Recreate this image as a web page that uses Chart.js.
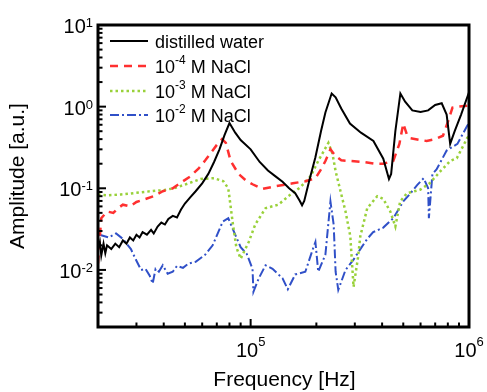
<!DOCTYPE html>
<html>
<head>
<meta charset="utf-8">
<script src="https://cdn.jsdelivr.net/npm/chart.js@4/dist/chart.umd.min.js"></script>
<style>
html,body{margin:0;padding:0;background:#fff;}
#wrap{width:487px;height:392px;}
</style>
</head>
<body>
<div id="wrap"><canvas id="c" width="487" height="392"></canvas></div>
<script>
// ---- data (frequency in Hz, amplitude in a.u.) ----
const waterFreq = [2.0e4,2.04e4,2.07e4,2.12e4,2.16e4,2.2e4,2.3e4,2.4e4,2.5e4,2.6e4,2.7e4,2.8e4,2.9e4,3.0e4,3.1e4,3.2e4,3.35e4,3.5e4,3.6e4,3.75e4,3.9e4,4.05e4,4.2e4,4.4e4,4.6e4,4.8e4,5.0e4,5.3e4,5.6e4,6.0e4,6.4e4,6.8e4,7.2e4,7.6e4,8.0e4,8.5e4,9.0e4,1.0e5,1.1e5,1.2e5,1.3e5,1.4e5,1.5e5,1.6e5,1.68e5,1.72e5,1.76e5,1.85e5,1.98e5,2.1e5,2.2e5,2.35e5,2.45e5,2.6e5,2.85e5,3.2e5,3.65e5,4.05e5,4.3e5,4.4e5,4.6e5,4.85e5,5.1e5,5.5e5,6.0e5,6.5e5,7.0e5,7.5e5,7.9e5,8.2e5,8.6e5,9.2e5,1e6];
const waterAmp = [0.018,0.022,0.015,0.021,0.016,0.020,0.018,0.021,0.019,0.023,0.021,0.025,0.023,0.027,0.025,0.029,0.027,0.031,0.028,0.034,0.038,0.036,0.042,0.046,0.044,0.055,0.065,0.078,0.092,0.115,0.15,0.21,0.30,0.45,0.63,0.48,0.39,0.30,0.21,0.165,0.14,0.12,0.10,0.087,0.07,0.062,0.07,0.12,0.24,0.5,0.85,1.45,1.3,0.95,0.62,0.48,0.38,0.23,0.13,0.15,0.5,1.45,1.15,0.9,0.86,0.9,1.05,1.1,0.8,0.35,0.5,0.8,1.5];

const nacl4Freq = [2.0e4,2.03e4,2.07e4,2.2e4,2.35e4,2.47e4,2.6e4,2.8e4,3.0e4,3.25e4,3.6e4,3.96e4,4.4e4,4.9e4,5.3e4,5.8e4,6.2e4,6.7e4,7.0e4,7.4e4,7.7e4,8.1e4,8.8e4,9.5e4,1.02e5,1.13e5,1.3e5,1.56e5,1.78e5,1.98e5,2.1e5,2.2e5,2.32e5,2.44e5,2.6e5,2.86e5,3.3e5,3.7e5,4.05e5,4.5e5,4.8e5,5.0e5,5.2e5,5.4e5,6.0e5,6.4e5,7.0e5,7.6e5,8.0e5,8.4e5,9.0e5,1e6];
const nacl4Amp = [0.012,0.022,0.043,0.052,0.050,0.057,0.063,0.060,0.068,0.073,0.080,0.092,0.10,0.122,0.14,0.177,0.22,0.29,0.34,0.40,0.36,0.216,0.15,0.125,0.112,0.098,0.106,0.115,0.122,0.133,0.17,0.216,0.30,0.25,0.22,0.216,0.21,0.20,0.2,0.216,0.35,0.62,0.45,0.41,0.39,0.38,0.40,0.44,0.65,0.97,1.0,1.03];

const nacl3Freq = [2.0e4,2.2e4,2.55e4,3.0e4,3.49e4,4.0e4,4.45e4,5.2e4,5.9e4,6.8e4,7.5e4,7.9e4,8.3e4,8.6e4,9.0e4,9.8e4,1.05e5,1.17e5,1.34e5,1.49e5,1.69e5,1.88e5,2.04e5,2.2e5,2.27e5,2.37e5,2.45e5,2.58e5,2.72e5,2.86e5,2.96e5,3.1e5,3.18e5,3.42e5,3.8e5,4.05e5,4.36e5,4.6e5,4.84e5,5.2e5,5.97e5,6.6e5,7.4e5,8.2e5,8.8e5,9.8e5,1e6];
const nacl3Amp = [0.084,0.082,0.084,0.088,0.092,0.095,0.10,0.115,0.13,0.133,0.122,0.10,0.036,0.019,0.0137,0.022,0.036,0.057,0.063,0.08,0.103,0.14,0.216,0.31,0.36,0.265,0.162,0.092,0.052,0.026,0.0062,0.014,0.026,0.057,0.08,0.074,0.052,0.034,0.069,0.087,0.096,0.115,0.162,0.216,0.234,0.41,0.44];

const nacl2Freq = [2.03e4,2.24e4,2.42e4,2.6e4,2.83e4,2.98e4,3.15e4,3.3e4,3.45e4,3.56e4,3.67e4,3.8e4,3.96e4,4.17e4,4.4e4,4.6e4,4.9e4,5.2e4,5.6e4,6.2e4,6.7e4,7.45e4,7.9e4,8.5e4,9.0e4,9.6e4,1.02e5,1.03e5,1.09e5,1.17e5,1.26e5,1.4e5,1.48e5,1.6e5,1.78e5,1.92e5,1.98e5,2.04e5,2.2e5,2.32e5,2.4e5,2.45e5,2.52e5,2.72e5,2.96e5,3.18e5,3.42e5,3.64e5,4.05e5,4.5e5,5.0e5,5.4e5,5.8e5,6.2e5,6.5e5,6.55e5,6.8e5,7.1e5,7.9e5,8.85e5,9.8e5,1e6];
const nacl2Amp = [0.027,0.025,0.028,0.024,0.018,0.0134,0.010,0.0103,0.0085,0.0068,0.0103,0.0095,0.0114,0.009,0.0095,0.0112,0.0106,0.012,0.0126,0.0154,0.020,0.039,0.043,0.027,0.019,0.0157,0.0103,0.0054,0.0079,0.0114,0.0103,0.0079,0.0058,0.0088,0.0095,0.0175,0.022,0.0095,0.0154,0.069,0.036,0.0095,0.0057,0.010,0.0134,0.018,0.024,0.029,0.033,0.043,0.069,0.087,0.11,0.133,0.10,0.043,0.15,0.17,0.29,0.35,0.58,0.63];

const seriesLabels = [
  {main:'distilled water'},
  {pre:'10', sup:'-4', post:' M NaCl'},
  {pre:'10', sup:'-3', post:' M NaCl'},
  {pre:'10', sup:'-2', post:' M NaCl'}
];
const xTickExps = [5, 6];
const yTickExps = [1, 0, -1, -2];
const xTitle = 'Frequency [Hz]';
const yTitle = 'Amplitude [a.u.]';

const styles = [
  {color:'#000000', width:2,   dash:[]},
  {color:'#ff3030', width:2.5, dash:[8,6]},
  {color:'#99d13a', width:2.5, dash:[2.5,3]},
  {color:'#3050c8', width:2,   dash:[9,3,2,3]}
];

function pts(fx, ay){ return fx.map((f,i)=>({x:f, y:ay[i]})); }
const seriesData = [pts(waterFreq,waterAmp), pts(nacl4Freq,nacl4Amp), pts(nacl3Freq,nacl3Amp), pts(nacl2Freq,nacl2Amp)];

const FONT = 'Arial, "Liberation Sans", Helvetica, sans-serif';

const decor = {
  id:'decor',
  afterDraw(chart){
    const ctx = chart.ctx, a = chart.chartArea;
    const xs = chart.scales.x, ys = chart.scales.y;
    ctx.save();
    ctx.strokeStyle = '#000';
    ctx.fillStyle = '#000';
    ctx.lineWidth = 2;
    for (let e = -3; e <= 1; e++) {
      for (let m = 1; m <= 9; m++) {
        const v = m * Math.pow(10, e);
        if (v < ys.min * 0.999 || v > ys.max * 1.001) continue;
        const py = ys.getPixelForValue(v);
        const len = (m === 1) ? 8 : 4.5;
        ctx.beginPath(); ctx.moveTo(a.left, py); ctx.lineTo(a.left + len, py); ctx.stroke();
      }
    }
    for (let e = 4; e <= 6; e++) {
      for (let m = 1; m <= 9; m++) {
        const v = m * Math.pow(10, e);
        if (v < xs.min * 0.999 || v > xs.max * 1.001) continue;
        const px = xs.getPixelForValue(v);
        const len = (m === 1) ? 8 : 4.5;
        ctx.beginPath(); ctx.moveTo(px, a.bottom); ctx.lineTo(px, a.bottom - len); ctx.stroke();
      }
    }
    ctx.lineWidth = 3;
    ctx.strokeRect(a.left, a.top, a.right - a.left, a.bottom - a.top);

    ctx.textBaseline = 'alphabetic';
    yTickExps.forEach(e => {
      const py = ys.getPixelForValue(Math.pow(10, e));
      const sup = String(e);
      ctx.font = '13px ' + FONT;
      const ws = ctx.measureText(sup).width;
      ctx.font = '20px ' + FONT;
      const wm = ctx.measureText('10').width;
      const right = a.left - 5;
      ctx.textAlign = 'left';
      ctx.fillText('10', right - ws - wm, py + 8);
      ctx.font = '13px ' + FONT;
      ctx.fillText(sup, right - ws, py + 2);
    });
    xTickExps.forEach(e => {
      const px = xs.getPixelForValue(Math.pow(10, e));
      const sup = String(e);
      ctx.font = '13px ' + FONT;
      const ws = ctx.measureText(sup).width;
      ctx.font = '20px ' + FONT;
      const wm = ctx.measureText('10').width;
      const left = px - (wm + ws) / 2;
      ctx.textAlign = 'left';
      ctx.fillText('10', left, a.bottom + 30);
      ctx.font = '13px ' + FONT;
      ctx.fillText(sup, left + wm, a.bottom + 19);
    });
    ctx.font = '21px ' + FONT;
    ctx.textAlign = 'center';
    ctx.fillText(xTitle, (a.left + a.right) / 2 + 1, 386);
    ctx.save();
    ctx.translate(24, 176);
    ctx.rotate(-Math.PI / 2);
    ctx.textAlign = 'center';
    ctx.fillText(yTitle, 0, 0);
    ctx.restore();

    const rowY = [41, 66, 91, 115];
    seriesLabels.forEach((lab, i) => {
      const st = styles[i], y = rowY[i];
      ctx.save();
      ctx.strokeStyle = st.color; ctx.lineWidth = st.width; ctx.setLineDash(st.dash);
      ctx.beginPath(); ctx.moveTo(110, y); ctx.lineTo(148, y); ctx.stroke();
      ctx.restore();
      ctx.textAlign = 'left';
      let x = 155;
      if (lab.main) {
        ctx.font = '18px ' + FONT;
        ctx.fillText(lab.main, x, y + 6.5);
      } else {
        ctx.font = '18px ' + FONT;
        ctx.fillText(lab.pre, x, y + 7);
        x += ctx.measureText(lab.pre).width;
        ctx.font = '12px ' + FONT;
        ctx.fillText(lab.sup, x, y - 2);
        x += ctx.measureText(lab.sup).width;
        ctx.font = '18px ' + FONT;
        ctx.fillText(lab.post, x, y + 7);
      }
    });
    ctx.restore();
  }
};

new Chart(document.getElementById('c'), {
  type: 'scatter',
  data: {
    datasets: seriesData.map((d, i) => ({
      label: i === 0 ? seriesLabels[0].main : seriesLabels[i].pre + seriesLabels[i].sup + seriesLabels[i].post,
      data: d,
      showLine: true,
      pointRadius: 0,
      borderColor: styles[i].color,
      borderWidth: styles[i].width,
      borderDash: styles[i].dash,
      tension: 0,
      fill: false
    }))
  },
  options: {
    responsive: false,
    animation: false,
    devicePixelRatio: 1,
    layout: {padding: {left: 98, top: 25, right: 18, bottom: 65}},
    plugins: {legend: {display: false}, tooltip: {enabled: false}},
    scales: {
      x: {type: 'logarithmic', min: 2e4, max: 1e6, display: false},
      y: {type: 'logarithmic', min: 2e-3, max: 10, display: false}
    }
  },
  plugins: [decor]
});
</script>
</body>
</html>
